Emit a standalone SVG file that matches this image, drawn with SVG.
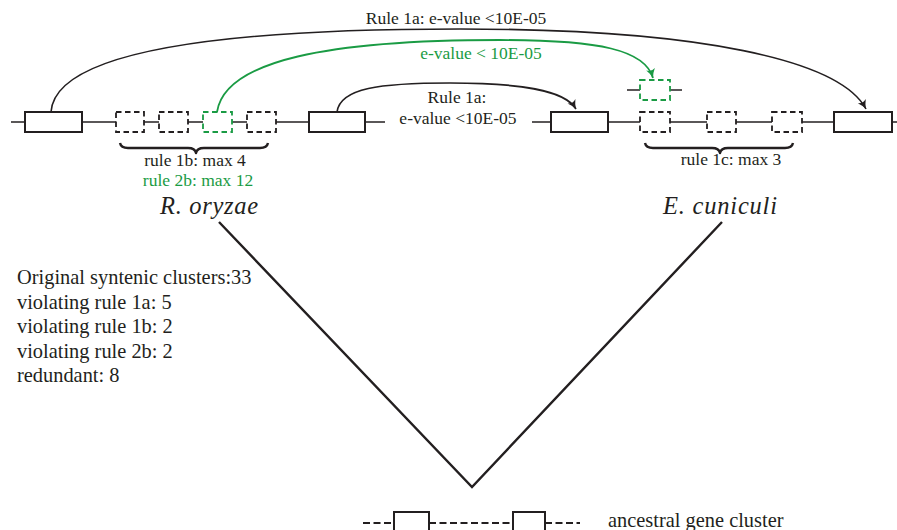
<svg xmlns="http://www.w3.org/2000/svg" width="897" height="530" viewBox="0 0 897 530">
<style>
text{font-family:"Liberation Serif","Times New Roman",serif;fill:#231f20}
.s{font-size:17.5px}
.g{fill:#1a9b44}
.big{font-size:20.4px}
.sp{font-size:24.5px;font-style:italic}
.box{fill:#fff;stroke:#231f20;stroke-width:2}
.dbox{fill:#fff;stroke:#231f20;stroke-width:1.8;stroke-dasharray:5.5 3.5}
.gbox{fill:#fff;stroke:#1a9b44;stroke-width:1.8;stroke-dasharray:5.5 3.5}
.ln{stroke:#231f20;stroke-width:1.6;fill:none}
.arc{fill:none;stroke:#231f20;stroke-width:1.6}
.garc{fill:none;stroke:#1a9b44;stroke-width:1.8}
.brace{fill:none;stroke:#231f20;stroke-width:2.4;stroke-linejoin:round}
.tri{fill:none;stroke:#231f20;stroke-width:2.4}
.dl{stroke:#231f20;stroke-width:1.8;stroke-dasharray:7 3.5;fill:none}
</style>
<defs>
<marker id="ab" markerWidth="12" markerHeight="12" viewBox="-10 -6 12 12" refX="0" refY="0" orient="auto" markerUnits="userSpaceOnUse">
<path d="M0,0 Q-5,-1.5 -9,-4.5 Q-6,0 -9,4.5 Q-5,1.5 0,0 Z" fill="#231f20"/>
</marker>
<marker id="ag" markerWidth="12" markerHeight="12" viewBox="-10 -6 12 12" refX="0" refY="0" orient="auto" markerUnits="userSpaceOnUse">
<path d="M0,0 Q-5,-1.5 -9,-4.5 Q-6,0 -9,4.5 Q-5,1.5 0,0 Z" fill="#1a9b44"/>
</marker>
</defs>

<g id="ro-chromosome">
<line class="ln" x1="11" y1="122" x2="385" y2="122"/>
<rect class="box" x="25" y="112" width="57" height="20"/>
<rect class="dbox" x="116" y="112" width="28" height="20"/>
<rect class="dbox" x="159" y="112" width="29" height="20"/>
<rect class="gbox" x="203" y="112" width="29" height="20"/>
<rect class="dbox" x="247" y="112" width="29" height="20"/>
<rect class="box" x="309" y="112" width="56" height="20"/>
</g>

<g id="ec-chromosome">
<line class="ln" x1="532" y1="122" x2="897" y2="122"/>
<rect class="box" x="551" y="112" width="57" height="20"/>
<rect class="dbox" x="640" y="112" width="30" height="20"/>
<rect class="dbox" x="707" y="112" width="29" height="20"/>
<rect class="dbox" x="772" y="112" width="30" height="20"/>
<rect class="box" x="834" y="112" width="58" height="20"/>
</g>

<g id="ec-inserted">
<line class="ln" x1="627" y1="90" x2="682" y2="90"/>
<rect class="gbox" x="640" y="80" width="30" height="20"/>
</g>

<g id="connectors">
<path class="arc" d="M51,112 C55,55 200,29 460,29 C700,29 840,60 866,109" marker-end="url(#ab)"/>
<path class="garc" d="M217,112 C225,60 330,40 500,40 C600,40 645,50 653,78" marker-end="url(#ag)"/>
<path class="arc" d="M337,112 C340,88 380,83 450,83 C520,83 565,90 576,109" marker-end="url(#ab)"/>
<path class="tri" d="M219,222 L472,487 L722,222"/>
</g>

<g id="braces">
<path class="brace" d="M120,143 Q121,148 128,148 L188,148 Q195,148 196,153 Q197,148 204,148 L260,148 Q267,148 268,143"/>
<path class="brace" d="M645,143 Q646,148 653,148 L712,148 Q719,148 720,153 Q721,148 728,148 L785,148 Q792,148 793,143"/>
</g>

<g id="labels">
<text class="s" x="456" y="24" text-anchor="middle">Rule 1a: e-value &lt;10E-05</text>
<text class="s g" x="481" y="59" text-anchor="middle">e-value &lt; 10E-05</text>
<text class="s" x="457" y="103" text-anchor="middle">Rule 1a:</text>
<text class="s" x="458" y="124" text-anchor="middle">e-value &lt;10E-05</text>
<text class="s" x="195" y="166" text-anchor="middle">rule 1b: max 4</text>
<text class="s g" x="198" y="186" text-anchor="middle">rule 2b: max 12</text>
<text class="s" x="731" y="165" text-anchor="middle">rule 1c: max 3</text>
</g>

<g id="species">
<text class="sp" x="160" y="214" textLength="98" lengthAdjust="spacing">R. oryzae</text>
<text class="sp" x="663" y="214" textLength="114" lengthAdjust="spacing">E. cuniculi</text>
</g>

<g id="stats">
<text class="big" x="17" y="284">Original syntenic clusters:33</text>
<text class="big" x="17" y="308.5">violating rule 1a: 5</text>
<text class="big" x="17" y="333">violating rule 1b: 2</text>
<text class="big" x="17" y="357.5">violating rule 2b: 2</text>
<text class="big" x="17" y="382">redundant: 8</text>
</g>

<g id="ancestral">
<line class="dl" x1="363" y1="523" x2="394" y2="523"/>
<line class="dl" x1="429" y1="523" x2="513" y2="523"/>
<line class="dl" x1="545" y1="523" x2="580" y2="523"/>
<path class="ln" d="M394,535 L394,512 L429,512 L429,535" style="stroke-width:2"/>
<path class="ln" d="M513,535 L513,512 L545,512 L545,535" style="stroke-width:2"/>
<text class="big" x="608" y="527">ancestral gene cluster</text>
</g>
</svg>
